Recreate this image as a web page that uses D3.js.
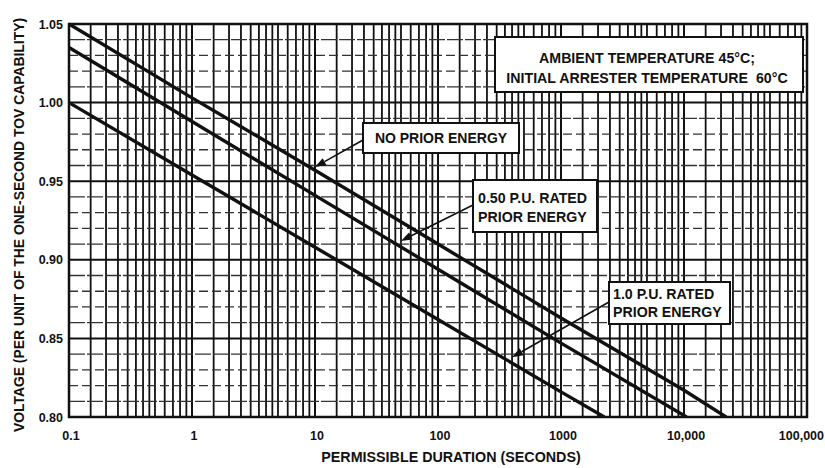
<!DOCTYPE html>
<html>
<head>
<meta charset="utf-8">
<script src="https://cdn.jsdelivr.net/npm/d3@7"></script>
<style>
  html, body { margin: 0; padding: 0; background: #fff; }
  svg { display: block; }
  text { font-family: "Liberation Sans", Arial, sans-serif; font-weight: bold; fill: #111; white-space: pre; }
</style>
</head>
<body>
<svg id="chart" width="825" height="468"></svg>
<script>
// Axis ticks
const xTickValues = [0.1, 1, 10, 100, 1000, 10000, 100000];
const xTickLabels = ["0.1", "1", "10", "100", "1000", "10,000", "100,000"];
const yTickValues = [0.80, 0.85, 0.90, 0.95, 1.00, 1.05];
const yTickLabels = ["0.80", "0.85", "0.90", "0.95", "1.00", "1.05"];

// Sub-decade grid multipliers and minor voltage step
const decadeSteps = [1.5, 2, 2.5, 3, 3.5, 4, 4.5, 5, 6, 7, 8, 9];
const minorVoltageStep = 0.01;

// Permissible duration (s) vs. voltage (p.u. of one-second TOV capability)
const noPriorDuration = [0.1, 1, 10, 100, 1000, 10000, 22000];
const noPriorVoltage  = [1.050, 1.003, 0.957, 0.910, 0.863, 0.817, 0.800];

const halfPuDuration = [0.1, 1, 10, 100, 1000, 10500];
const halfPuVoltage  = [1.035, 0.988, 0.941, 0.894, 0.847, 0.800];

const onePuDuration = [0.1, 1, 10, 100, 1000, 2250];
const onePuVoltage  = [1.000, 0.954, 0.908, 0.862, 0.816, 0.800];

// Callout texts and the point on each curve they refer to
const conditionNote = ["AMBIENT TEMPERATURE 45\u00B0C;", "INITIAL ARRESTER TEMPERATURE  60\u00B0C"];
const noPriorNote = ["NO PRIOR ENERGY"];
const halfPuNote = ["0.50 P.U. RATED", "PRIOR ENERGY"];
const onePuNote = ["1.0 P.U. RATED", "PRIOR ENERGY"];
const noPriorTip = [10, 0.959];
const halfPuTip = [50, 0.912];
const onePuTip = [400, 0.838];

const xTitle = "PERMISSIBLE DURATION (SECONDS)";
const yTitle = "VOLTAGE (PER UNIT OF THE ONE-SECOND TOV CAPABILITY)";

const svg = d3.select("#chart");
const plotLeft = 69, plotRight = 807, plotTop = 24, plotBottom = 417;

const x = d3.scaleLog().domain([0.1, 100000]).range([plotLeft, plotRight]);
const y = d3.scaleLinear().domain([0.80, 1.05]).range([plotBottom, plotTop]);

svg.append("rect").attr("width", 825).attr("height", 468).attr("fill", "#fff");

const ink = "#111";

// Vertical grid: decades plus sub-decade lines
const gridX = [];
for (let d = -1; d < 5; d++) {
  const base = Math.pow(10, d);
  decadeSteps.forEach(s => gridX.push(base * s));
}
const grid = svg.append("g");
grid.selectAll("line.vx").data(gridX).join("line")
  .attr("class", "vx")
  .attr("x1", d => x(d)).attr("x2", d => x(d))
  .attr("y1", plotTop).attr("y2", plotBottom)
  .attr("stroke", ink).attr("stroke-width", 1.8);
grid.selectAll("line.vmaj").data(xTickValues).join("line")
  .attr("class", "vmaj")
  .attr("x1", d => x(d)).attr("x2", d => x(d))
  .attr("y1", plotTop).attr("y2", plotBottom)
  .attr("stroke", ink).attr("stroke-width", 2);

// Horizontal grid: every 0.01 p.u., heavier every 0.05
const gridY = d3.range(0, 26).map(i => +(0.80 + i * minorVoltageStep).toFixed(2));
grid.selectAll("line.h").data(gridY).join("line")
  .attr("class", "h")
  .attr("x1", plotLeft).attr("x2", plotRight)
  .attr("y1", d => y(d)).attr("y2", d => y(d))
  .attr("stroke", (d, i) => i % 5 === 0 ? ink : "#333")
  .attr("stroke-width", (d, i) => i % 5 === 0 ? 2 : 1.3)
  .attr("stroke-dasharray", (d, i) => i % 5 === 0 ? null : (i % 5 === 2 || i % 5 === 3 ? "9,4" : "16,2"));

// Plot frame
svg.append("rect")
  .attr("x", plotLeft).attr("y", plotTop)
  .attr("width", plotRight - plotLeft).attr("height", plotBottom - plotTop)
  .attr("fill", "none").attr("stroke", ink).attr("stroke-width", 2.5);

// Curves
svg.append("clipPath").attr("id", "plotClip")
  .append("rect").attr("x", plotLeft).attr("y", plotTop - 2)
  .attr("width", plotRight - plotLeft).attr("height", plotBottom - plotTop + 2);

const line = d3.line().x(d => x(d[0])).y(d => y(d[1]));
const curves = [
  d3.zip(noPriorDuration, noPriorVoltage),
  d3.zip(halfPuDuration, halfPuVoltage),
  d3.zip(onePuDuration, onePuVoltage)
];
svg.append("g").attr("clip-path", "url(#plotClip)")
  .selectAll("path").data(curves).join("path")
  .attr("d", line)
  .attr("fill", "none").attr("stroke", ink).attr("stroke-width", 3.4)
  .attr("stroke-linejoin", "round");

// Tick labels
svg.append("g").selectAll("text").data(yTickValues).join("text")
  .attr("x", 63).attr("y", d => y(d) + 4.5)
  .attr("text-anchor", "end").attr("font-size", 12.5)
  .text((d, i) => yTickLabels[i]);
const lastX = xTickValues.length - 1;
svg.append("g").selectAll("text").data(xTickValues).join("text")
  .attr("x", (d, i) => i === lastX ? 824 : x(d) + 2).attr("y", 440)
  .attr("text-anchor", (d, i) => i === lastX ? "end" : "middle").attr("font-size", 12.5)
  .text((d, i) => xTickLabels[i]);

// Axis titles
svg.append("text")
  .attr("x", 451).attr("y", 462)
  .attr("text-anchor", "middle").attr("font-size", 14.3)
  .text(xTitle);
svg.append("text")
  .attr("transform", "translate(24,225) rotate(-90)")
  .attr("text-anchor", "middle").attr("font-size", 13.9)
  .text(yTitle);

// Callouts
function callout(box, lines, opts) {
  const g = svg.append("g");
  if (opts.tip) {
    const tx = x(opts.tip[0]), ty = y(opts.tip[1]);
    const [sx, sy] = opts.from;
    const ang = Math.atan2(ty - sy, tx - sx);
    const len = 11, half = 4;
    const bx = tx - len * Math.cos(ang), by = ty - len * Math.sin(ang);
    g.append("line").attr("x1", sx).attr("y1", sy).attr("x2", bx).attr("y2", by)
      .attr("stroke", ink).attr("stroke-width", 1.6);
    g.append("path")
      .attr("d", `M${tx},${ty}L${bx - half * Math.sin(ang)},${by + half * Math.cos(ang)}L${bx + half * Math.sin(ang)},${by - half * Math.cos(ang)}Z`)
      .attr("fill", ink);
  }
  g.append("rect")
    .attr("x", box[0]).attr("y", box[1]).attr("width", box[2]).attr("height", box[3])
    .attr("fill", "#fff").attr("stroke", ink).attr("stroke-width", 2);
  g.selectAll("text").data(lines).join("text")
    .attr("x", opts.tx).attr("y", (d, i) => opts.ty + i * opts.dy)
    .attr("text-anchor", opts.anchor).attr("font-size", opts.size)
    .text(d => d);
}

callout([495, 37, 308, 55], conditionNote,
  { tx: 647, ty: 63, dy: 20, anchor: "middle", size: 14.2 });
callout([363, 123, 156, 30], noPriorNote,
  { tx: 441, ty: 143, dy: 0, anchor: "middle", size: 14, tip: noPriorTip, from: [363, 140] });
callout([473, 180, 124, 52], halfPuNote,
  { tx: 478, ty: 203, dy: 19, anchor: "start", size: 14.2, tip: halfPuTip, from: [473, 205] });
callout([609, 282, 121, 42], onePuNote,
  { tx: 613, ty: 299, dy: 18, anchor: "start", size: 14.2, tip: onePuTip, from: [609, 302] });
</script>
</body>
</html>
